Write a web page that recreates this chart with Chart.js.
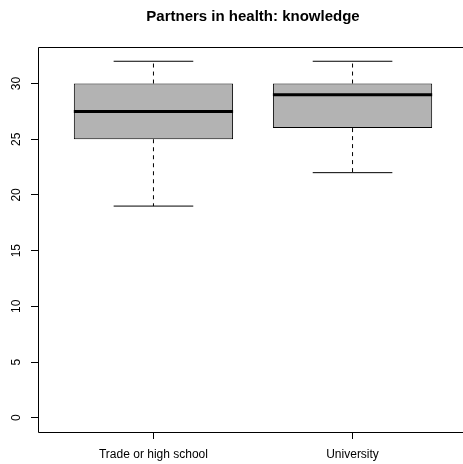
<!DOCTYPE html>
<html>
<head>
<meta charset="utf-8">
<script src="https://cdn.jsdelivr.net/npm/chart.js@4/dist/chart.umd.min.js"></script>
<style>
  html, body { margin: 0; padding: 0; background: #fff; overflow: hidden; width: 463px; height: 464px; }
  #wrap { width: 463px; height: 464px; overflow: hidden; position: relative; }
  #c { position: absolute; left: 0; top: 0; width: 506px; height: 464px; }
</style>
</head>
<body>
<div id="wrap"><canvas id="c" width="506" height="464"></canvas></div>
<script>
// Five-number summaries per education group
const categories = ['Trade or high school', 'University'];
const positions = [1, 2];
const mins = [19, 22];
const q1s = [25, 26];
const medians = [27.5, 29];
const q3s = [30, 30];
const maxs = [32, 32];
const yTicks = [0, 5, 10, 15, 20, 25, 30];
const titleText = 'Partners in health: knowledge';

// Axis ranges padded by 4% on each side, R style
const yLo = Math.min(0, ...mins), yHi = Math.max(...maxs);
const yPad = (yHi - yLo) * 0.04;
const xLo = 0.5, xHi = positions.length + 0.5;
const xPad = (xHi - xLo) * 0.04;

const BOX_HALF = 0.4, CAP_HALF = 0.2;

const whiskerPts = [], capPts = [], medianPts = [];
positions.forEach((p, i) => {
  whiskerPts.push({x: p, y: q3s[i]}, {x: p, y: maxs[i]}, {x: p, y: null},
                  {x: p, y: q1s[i]}, {x: p, y: mins[i]}, {x: p, y: null});
  capPts.push({x: p - CAP_HALF, y: maxs[i]}, {x: p + CAP_HALF, y: maxs[i]}, {x: p, y: null},
              {x: p - CAP_HALF, y: mins[i]}, {x: p + CAP_HALF, y: mins[i]}, {x: p, y: null});
  medianPts.push({x: p - BOX_HALF, y: medians[i]}, {x: p + BOX_HALF, y: medians[i]}, {x: p, y: null});
});
const boxData = positions.map((p, i) => ({x: p, y: [q1s[i], q3s[i]]}));

const FONT = '"Liberation Sans", Arial, Helvetica, sans-serif';

// Box around the plotting region (left, top and bottom sides)
const framePlugin = {
  id: 'frame',
  afterDatasetsDraw(chart) {
    const {ctx, chartArea: a} = chart;
    ctx.save();
    ctx.strokeStyle = '#000';
    ctx.lineWidth = 1;
    const l = Math.floor(a.left) + 0.5, t = Math.floor(a.top) + 0.5;
    const r = Math.floor(a.right) + 0.5, b = Math.floor(a.bottom) + 0.5;
    ctx.beginPath();
    ctx.moveTo(r, t); ctx.lineTo(l, t); ctx.lineTo(l, b); ctx.lineTo(r, b);
    ctx.stroke();
    ctx.restore();
  }
};

const lineBase = {type: 'line', pointRadius: 0, fill: false, tension: 0, spanGaps: false, borderColor: '#000'};

new Chart(document.getElementById('c'), {
  type: 'bar',
  data: {
    datasets: [
      Object.assign({}, lineBase, {data: whiskerPts, borderWidth: 1, borderDash: [4, 4], order: 4}),
      {type: 'bar', data: boxData, backgroundColor: '#b3b3b3', borderColor: '#000', borderWidth: 1,
       borderSkipped: false, barPercentage: 1, categoryPercentage: 2 * BOX_HALF, order: 3},
      Object.assign({}, lineBase, {data: medianPts, borderWidth: 3, borderCapStyle: 'butt', order: 2}),
      Object.assign({}, lineBase, {data: capPts, borderWidth: 1, order: 1})
    ]
  },
  options: {
    responsive: false,
    animation: false,
    devicePixelRatio: 1,
    layout: {padding: 0},
    plugins: {
      legend: {display: false},
      tooltip: {enabled: false},
      title: {
        display: true, text: titleText, color: '#000',
        font: {family: FONT, size: 15, weight: 'bold'},
        padding: {top: 8, bottom: 21}
      }
    },
    scales: {
      x: {
        type: 'linear',
        offset: false,
        min: xLo - xPad, max: xHi + xPad,
        afterBuildTicks: s => { s.ticks = positions.map(v => ({value: v})); },
        afterFit: s => { s.height = 32; },
        grid: {display: true, offset: false, drawOnChartArea: false, drawTicks: true, tickLength: 7, color: '#000'},
        border: {display: false},
        ticks: {
          color: '#000', font: {family: FONT, size: 12}, padding: 8,
          maxRotation: 0, autoSkip: false,
          callback: v => categories[positions.indexOf(v)]
        }
      },
      y: {
        type: 'linear',
        min: yLo - yPad, max: yHi + yPad,
        afterBuildTicks: s => { s.ticks = yTicks.map(v => ({value: v})); },
        afterFit: s => { s.width = 38; },
        grid: {display: true, drawOnChartArea: false, drawTicks: true, tickLength: 7, color: '#000'},
        border: {display: false},
        ticks: {
          color: '#000', font: {family: FONT, size: 12}, padding: 8,
          minRotation: 90, maxRotation: 90, crossAlign: 'center', autoSkip: false
        }
      },
      // empty right-hand margin, same width as the left axis
      yRight: {
        type: 'linear', position: 'right',
        min: yLo - yPad, max: yHi + yPad,
        afterFit: s => { s.width = 38; },
        grid: {display: false}, border: {display: false},
        ticks: {display: false}
      }
    }
  },
  plugins: [framePlugin]
});
</script>
</body>
</html>
